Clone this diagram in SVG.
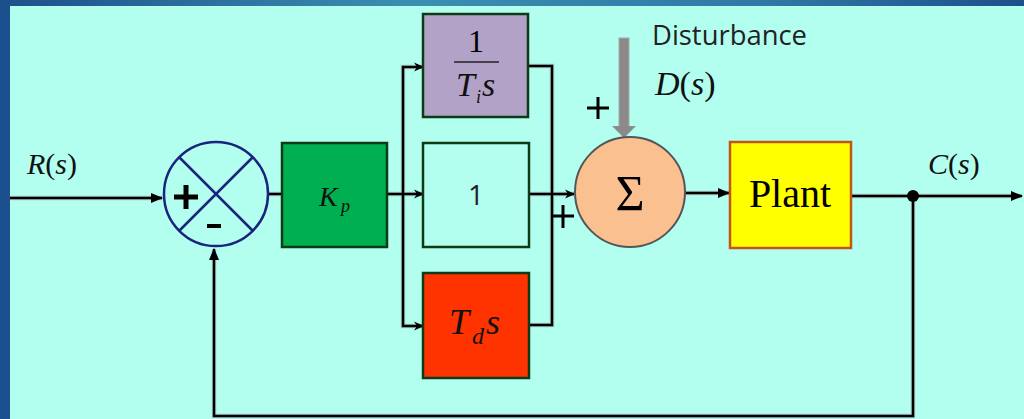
<svg xmlns="http://www.w3.org/2000/svg" width="1024" height="419" viewBox="0 0 1024 419">
<defs>
  <linearGradient id="topband" x1="0" y1="0" x2="1" y2="0">
    <stop offset="0" stop-color="#1d4f8c"/>
    <stop offset="0.4" stop-color="#3a8fb0"/>
    <stop offset="0.75" stop-color="#2f78a6"/>
    <stop offset="1" stop-color="#1d4f8c"/>
  </linearGradient>
  <marker id="arr" markerWidth="12" markerHeight="10" refX="11" refY="5" orient="auto" markerUnits="userSpaceOnUse">
    <path d="M0,0 L12,5 L0,10 Z" fill="#000"/>
  </marker>
  <marker id="arrs" markerWidth="10" markerHeight="10" refX="9" refY="5" orient="auto" markerUnits="userSpaceOnUse">
    <path d="M0,0.5 L10,5 L0,9.5 L3,5 Z" fill="#000"/>
  </marker>
</defs>
<style>
  .wire{fill:none;stroke:#000;stroke-width:2.5}
  .halo{fill:none;stroke:#9aa;stroke-width:4.5;opacity:0.6}
  .blk{stroke:#0e3b16;stroke-width:2.5}
  .math{font-family:"Liberation Serif",serif;font-style:italic;fill:#111}
  .up{font-style:normal}
  .sans{font-family:"Open Sans","Liberation Sans",sans-serif;fill:#222}
  .ser{font-family:"Liberation Serif",serif;fill:#000}
  .pm{stroke:#000;stroke-width:3;fill:none}
</style>
<rect x="0" y="0" width="1024" height="419" fill="#b2fff0"/>
<rect x="0" y="0" width="1024" height="6" fill="url(#topband)"/>
<rect x="0" y="0" width="10" height="419" fill="#1c4f8e"/>

<g id="connectors">
  <g class="halo">
    <path d="M10,198 H162"/>
    <path d="M268,194 H282"/>
    <path d="M387,194 H423"/>
    <path d="M423,67 H403 V326 H423"/>
    <path d="M528,66 H552 V325 H529"/>
    <path d="M529,194 H574"/>
    <path d="M685,193 H729"/>
    <path d="M851,196 H1021"/>
    <path d="M913,196 V416 H214 V250"/>
  </g>
  <path class="wire" d="M10,198 H162" marker-end="url(#arr)"/>
  <path class="wire" d="M268,194 H282"/>
  <path class="wire" d="M387,194 H423" marker-end="url(#arrs)"/>
  <path class="wire" d="M403,194 V67 H423" marker-end="url(#arrs)"/>
  <path class="wire" d="M403,194 V326 H423" marker-end="url(#arrs)"/>
  <path class="wire" d="M528,66 H552 V325 H529"/>
  <path class="wire" d="M529,194 H574" marker-end="url(#arrs)"/>
  <path class="wire" d="M685,193 H729" marker-end="url(#arr)"/>
  <path class="wire" d="M851,196 H1022" marker-end="url(#arr)"/>
  <path class="wire" d="M913,196 V416 H214 V249" marker-end="url(#arr)"/>
  <circle cx="913" cy="196" r="6" fill="#000"/>
  <g id="disturbance-arrow">
    <rect x="619" y="38" width="10" height="90" fill="#8a8a8a" stroke="#a8a8a8" stroke-width="1"/>
    <path d="M612,126 L636,126 L624,138 Z" fill="#8a8a8a"/>
  </g>
  <path class="pm" d="M587,108 H609 M598,97 V119"/>
  <path class="pm" d="M553,216 H574 M563,205 V228"/>
</g>

<g id="label-R">
  <text class="math" x="27" y="174" font-size="30">R<tspan class="up">(</tspan>s<tspan class="up">)</tspan></text>
</g>

<g id="sum1">
  <circle cx="216" cy="194" r="52" fill="#b2fff0" stroke="#1a237e" stroke-width="2.5"/>
  <path d="M179,157 L253,231 M253,157 L179,231" stroke="#1a237e" stroke-width="2.5"/>
  <path d="M174,197 H198 M186,185 V209" stroke="#000" stroke-width="5"/>
  <path d="M207,226 H221" stroke="#000" stroke-width="4"/>
</g>

<g id="kp">
  <rect class="blk" x="282" y="143" width="105" height="104" fill="#00b050"/>
  <text class="math" x="319" y="206" font-size="28">K</text>
  <text class="math" x="341" y="212" font-size="18" font-family="Liberation Sans">p</text>
</g>

<g id="integral">
  <rect class="blk" x="423" y="14" width="105" height="103" fill="#b3a2c7"/>
  <text class="ser" x="476" y="52" font-size="32" text-anchor="middle">1</text>
  <path d="M454,62 H499" stroke="#222" stroke-width="1.5"/>
  <text class="math" x="456" y="96" font-size="34">T</text>
  <text class="math" x="476" y="103" font-size="18">i</text>
  <text class="math" x="482" y="96" font-size="34">s</text>
</g>

<g id="proportional">
  <rect class="blk" x="423" y="143" width="106" height="104" fill="#b2fff0"/>
  <text class="sans" x="476" y="205" font-size="28" text-anchor="middle">1</text>
</g>

<g id="derivative">
  <rect class="blk" x="423" y="273" width="106" height="105" fill="#ff3300"/>
  <text class="math" x="449" y="334" font-size="36">T</text>
  <text class="math" x="472" y="344" font-size="24">d</text>
  <text class="math" x="486" y="334" font-size="36">s</text>
</g>

<g id="sum2">
  <circle cx="630" cy="192" r="55" fill="#fac090" stroke="#555" stroke-width="2"/>
  <text class="ser" x="630" y="210" font-size="50" text-anchor="middle">Σ</text>
</g>

<g id="disturbance">
  <text class="sans" x="652" y="45" font-size="27" textLength="155" lengthAdjust="spacingAndGlyphs">Disturbance</text>
  <text class="math" x="655" y="95" font-size="34">D<tspan class="up">(</tspan>s<tspan class="up">)</tspan></text>
</g>

<g id="plant">
  <rect x="730" y="142" width="121" height="106" fill="#ffff00" stroke="#c0561a" stroke-width="2.5"/>
  <text class="ser" x="790" y="207" font-size="40" text-anchor="middle">Plant</text>
</g>

<g id="label-C">
  <text class="math" x="928" y="174" font-size="30">C<tspan class="up">(</tspan>s<tspan class="up">)</tspan></text>
</g>
</svg>
